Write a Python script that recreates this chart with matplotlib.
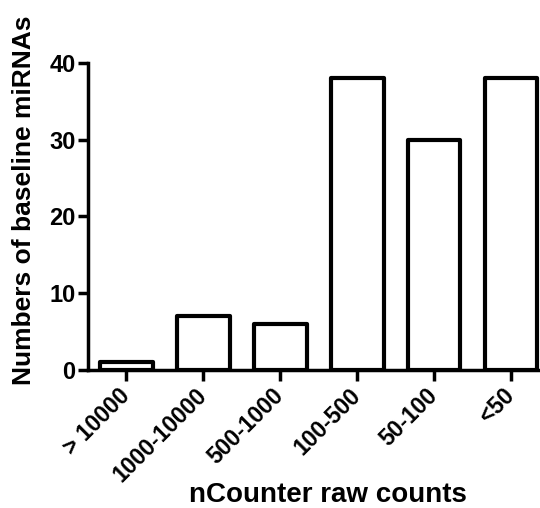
import matplotlib.pyplot as plt
import numpy as np

plt.rcParams['font.family'] = ['Liberation Sans', 'DejaVu Sans']
plt.rcParams['font.weight'] = 'bold'

# Data
categories = ['> 10000', '1000-10000', '500-1000', '100-500', '50-100', '<50']
counts = [1, 7, 6, 38, 30, 38]
y_ticks = [0, 10, 20, 30, 40]

fig = plt.figure(figsize=(5.4, 5.08), dpi=100)
ax = fig.add_axes([0.163, 0.2717, 0.855, 0.6043])

x = np.arange(len(categories))
bars = ax.bar(x, counts, width=0.68, color='white', edgecolor='black',
              linewidth=3, zorder=2)
for b in bars:
    b.set_joinstyle('round')

ax.set_xlim(-0.5, 5.5)
ax.set_ylim(0, 40)
ax.set_yticks(y_ticks)
ax.set_xticks(x)
ax.set_xticklabels(categories, rotation=45, ha='right', va='center',
                   rotation_mode='anchor', fontsize=16.5, fontweight='bold')
ax.tick_params(axis='y', labelsize=17, width=2.5, length=7, pad=2)
ax.tick_params(axis='x', width=2.5, length=8, pad=8)
for lbl in ax.get_yticklabels():
    lbl.set_fontweight('bold')

for s in ['top', 'right']:
    ax.spines[s].set_visible(False)
for s in ['left', 'bottom']:
    ax.spines[s].set_linewidth(2.5)
    ax.spines[s].set_zorder(3)

# axis titles placed in figure coords
fig.text(0.044, 0.606, 'Numbers of baseline miRNAs', rotation=90,
         ha='center', va='center', fontsize=19, fontweight='bold')
fig.text(0.607, 0.012, 'nCounter raw counts', ha='center', va='baseline',
         fontsize=20, fontweight='bold')

fig.savefig('out.png', dpi=100)
